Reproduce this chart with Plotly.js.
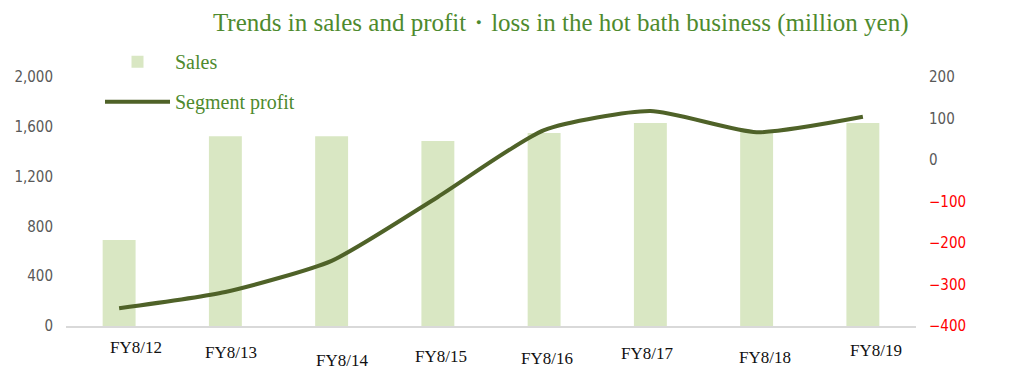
<!DOCTYPE html>
<html>
<head>
<meta charset="utf-8">
<script src="https://cdn.plot.ly/plotly-3.0.1.min.js"></script>
<style>html,body{margin:0;padding:0;background:#fff;}#chart{width:1014px;height:379px;}</style>
</head>
<body>
<div id="chart"></div>
<script>
const categories = ["FY8/12","FY8/13","FY8/14","FY8/15","FY8/16","FY8/17","FY8/18","FY8/19"];
const sales = [690, 1525, 1525, 1485, 1550, 1630, 1565, 1630];
const segmentProfit = [-357, -318, -243, -89, 72, 118, 67, 104];
const leftTicks = [0, 400, 800, 1200, 1600, 2000];
const leftTickLabels = ["0", "400", "800", "1,200", "1,600", "2,000"];
const rightTicks = [-400, -300, -200, -100, 0, 100, 200];
const rightTickLabels = ["−400", "−300", "−200", "−100", "0", "100", "200"];

// styling: staggered category label offsets (pixels) as in the original
const labelDx = [17, 6, 10, 3, 3, -3, 8, 13];
const labelDy = [-21, -26, -34, -30, -32, -27, -31, -24];

const tickFont = {family: "Liberation Sans Narrow, DejaVu Sans Condensed, Arial Narrow, sans-serif", size: 15, color: "#595959"};
const catFont = {family: "Liberation Serif, Times New Roman, serif", size: 17, color: "#111"};

const traces = [
  {
    type: "bar", name: "Sales", x: categories, y: sales, yaxis: "y",
    width: 0.31, legendgroup: "a",
    marker: {color: "#d9e7c3", line: {width: 0}},
    hoverinfo: "x+y"
  },
  {
    type: "scatter", mode: "lines", name: "Segment profit", x: categories, y: segmentProfit, yaxis: "y2",
    legendgroup: "b",
    line: {color: "#4f6228", width: 4, shape: "spline", smoothing: 0.6}
  }
];

const annotations = categories.map((c, i) => ({
  x: c, xref: "x", y: 0, yref: "paper", yanchor: "middle", xanchor: "center",
  text: c, showarrow: false, font: catFont, xshift: labelDx[i], yshift: labelDy[i]
}));

const layout = {
  width: 1014, height: 379,
  margin: {l: 66, r: 98, t: 77, b: 53},
  paper_bgcolor: "#fff", plot_bgcolor: "#fff",
  showlegend: true,
  title: {
    text: "Trends in sales and profit・loss in the hot bath business (million yen)",
    font: {family: "Liberation Serif, Times New Roman, serif", size: 25, color: "#4e8a2e"},
    x: 0.553, xanchor: "center", y: 0.94, yanchor: "middle"
  },
  legend: {
    x: 0.04, y: 1.14, xanchor: "left", yanchor: "top",
    font: {family: "Liberation Serif, Times New Roman, serif", size: 20, color: "#4e8a2e"},
    tracegroupgap: 11, itemwidth: 65, bgcolor: "rgba(0,0,0,0)", traceorder: "grouped"
  },
  annotations: annotations,
  xaxis: {
    type: "category", range: [-0.5, 7.5],
    showgrid: false, zeroline: false, showline: true, linecolor: "#d9d9d9", linewidth: 1.5,
    ticks: "", showticklabels: false
  },
  yaxis: {
    range: [0, 2000], tickvals: leftTicks, ticktext: leftTickLabels,
    showgrid: false, zeroline: false, showline: false, ticks: "",
    tickfont: tickFont, ticklabelstandoff: 12
  },
  yaxis2: {
    range: [-400, 200], overlaying: "y", side: "right",
    tickvals: rightTicks,
    ticktext: rightTickLabels.map((t, i) => rightTicks[i] < 0 ? '<span style="color:#ff0000">' + t + '</span>' : t),
    showgrid: false, zeroline: false, showline: false, ticks: "",
    tickfont: tickFont, ticklabelstandoff: 12
  },
  bargap: 0.69
};

Plotly.newPlot("chart", traces, layout, {displayModeBar: false, responsive: false});
</script>
</body>
</html>
